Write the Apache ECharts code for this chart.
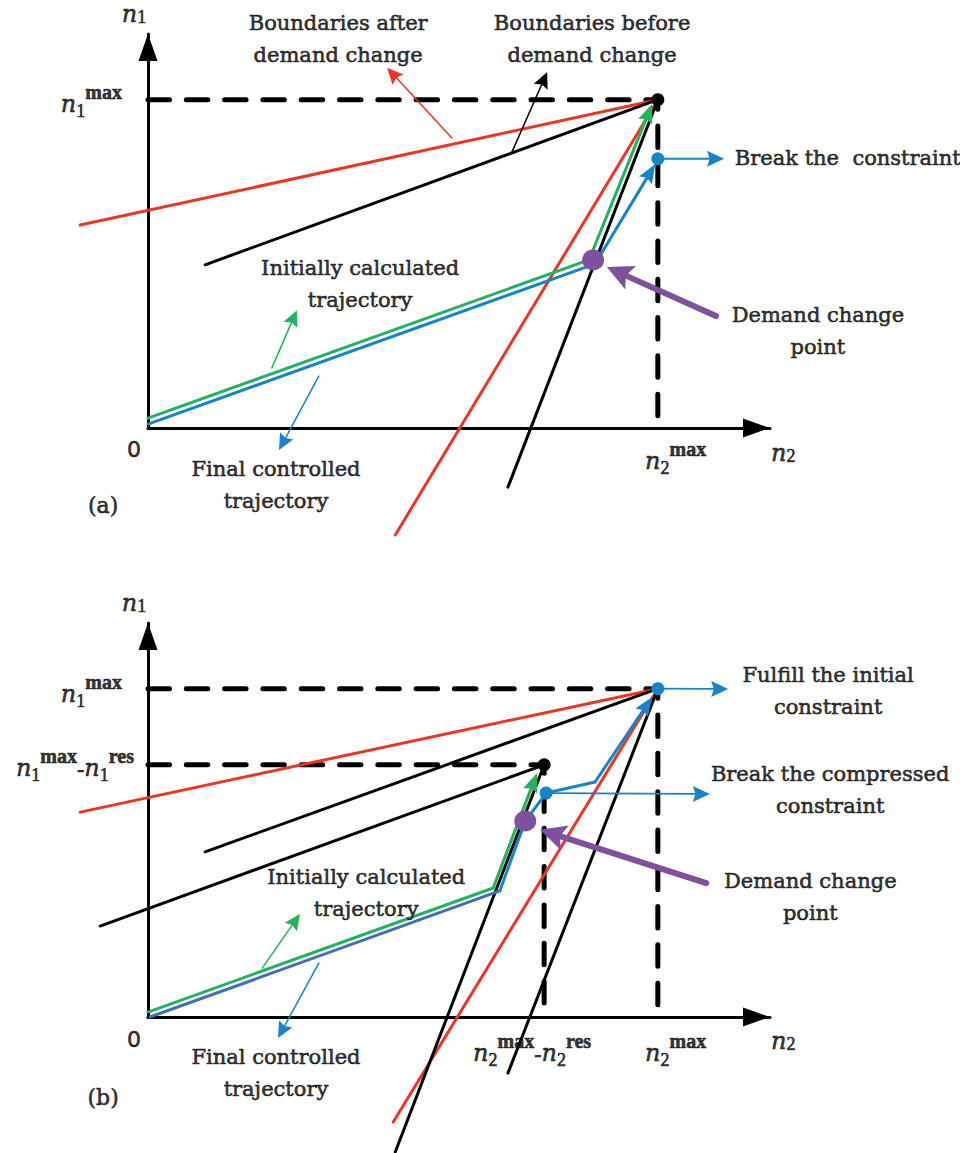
<!DOCTYPE html>
<html>
<head>
<meta charset="utf-8">
<script src="https://cdn.jsdelivr.net/npm/echarts@6/dist/echarts.min.js"></script>
<style>
html,body{margin:0;padding:0;background:#fff;}
#chart{width:960px;height:1153px;}
</style>
</head>
<body>
<div id="chart"></div>
<script>
// ================= DATA (units: n2max = 10, n1max = 10) =================
// ---- panel (a) ----
const aLimitDash   = [[0, 10], [10, 10], [10, 0]];
const aRedFlat     = [[-1.33, 6.18], [10, 10]];
const aBlackFlat   = [[1.12, 4.97], [10, 10]];
const aRedSteep    = [[4.85, -3.26], [10, 10]];
const aBlackSteep  = [[7.06, -1.80], [10, 10]];
const aGreenPath   = [[0, 0.30], [8.65, 5.12], [9.89, 9.87]];
const aBluePath    = [[0, 0.12], [8.77, 5.00], [9.95, 8.04]];
const aLimitPoint  = [[10, 10]];
const aBreakPoint  = [[10, 8.20]];
const aDemandPoint = [[8.73, 5.12]];
const aPurpleArrow = [[11.14, 3.41, 9.00, 4.90]];
const aBlueArrows  = [[10, 8.20, 11.30, 8.20]];
const aRedThin     = [[5.96, 8.83, 4.69, 10.97]];
const aBlackThin   = [[7.14, 8.41, 7.83, 10.84]];
const aGreenThin   = [[2.43, 1.83, 2.92, 3.59]];
const aBlueThin    = [[3.35, 1.58, 2.57, -0.67]];

// ---- panel (b) ----
const bLimitDash     = [[0, 10], [10, 10], [10, 0]];
const bCompressDash  = [[0, 7.68], [7.77, 7.68], [7.77, 0]];
const bRedFlat       = [[-1.33, 6.24], [10, 10]];
const bBlackFlat1    = [[1.12, 5.03], [10, 10]];
const bBlackFlat2    = [[-0.94, 2.77], [7.77, 7.68]];
const bRedSteep      = [[4.81, -3.20], [10, 10]];
const bBlackSteep1   = [[4.85, -4.11], [7.77, 7.68]];
const bBlackSteep2   = [[7.06, -1.71], [10, 10]];
const bGreenPath     = [[0, 0.15], [6.77, 3.93], [7.63, 7.43]];
const bBluePathLow   = [[0.04, 0], [6.90, 3.84]];
const bBluePath      = [[6.90, 3.84], [7.40, 5.97], [7.81, 6.82], [8.77, 7.16], [9.89, 9.75]];
const bCompressPoint = [[7.77, 7.68]];
const bFulfillPoint  = [[10, 10]];
const bBreakPoint    = [[7.81, 6.82]];
const bDemandPoint   = [[7.40, 5.97]];
const bPurpleArrow   = [[10.95, 4.08, 7.69, 5.70]];
const bBlueArrows    = [[10, 10, 11.38, 9.99], [7.81, 6.82, 11.02, 6.79]];
const bGreenThin     = [[2.24, 1.49, 2.98, 3.14]];
const bBlueThin      = [[3.35, 1.64, 2.55, -0.64]];

// ---- texts ----
const aTexts = ['{n|n}{s2|1}', '{n|n}{s|1}{p|max}', '{n|n}{s|2}{p|max}', '{n|n}{s2|2}', '0', '(a)',
  'Boundaries after\ndemand change', 'Boundaries before\ndemand change',
  'Initially calculated\ntrajectory', 'Final controlled\ntrajectory',
  'Demand change\npoint', 'Break the\u00a0 constraint'];
const bTexts = ['{n|n}{s2|1}', '{n|n}{s|1}{p|max}', '{n|n}{s|1}{p|max}{m|-}{n|n}{s|1}{p|res}',
  '{n|n}{s|2}{p|max}{m|-}{n|n}{s|2}{p|res}', '{n|n}{s|2}{p|max}', '{n|n}{s2|2}', '0', '(b)',
  'Initially calculated\ntrajectory', 'Final controlled\ntrajectory',
  'Fulfill the initial\nconstraint', 'Break the compressed\nconstraint', 'Demand change\npoint'];

// ================= LAYOUT (anchor of each text, in axis units) =================
const aTextAt = [[-0.275, 12.61], [-0.51, 9.87], [9.75, -1.01], [12.46, -0.76], [-0.275, -0.67], [-0.88, -2.35],
  [3.73, 11.84], [8.71, 11.84], [4.16, 4.39], [2.51, -1.74], [13.14, 2.95], [11.51, 8.22]];
const aTextAlign = ['center', 'right', 'left', 'center', 'center', 'center',
  'center', 'center', 'center', 'center', 'center', 'left'];
const bTextAt = [[-0.275, 12.61], [-0.51, 9.84], [-0.275, 7.58], [6.375, -1.10], [9.75, -1.10], [12.46, -0.73],
  [-0.275, -0.70], [-0.88, -2.44], [4.28, 3.78], [2.51, -1.71], [13.34, 9.93], [13.38, 6.91], [12.99, 3.66]];
const bTextAlign = ['center', 'right', 'right', 'left', 'left', 'center', 'center', 'center',
  'center', 'center', 'center', 'center', 'center'];

// ================= STYLES =================
const RED = '#ee3524', GREEN = '#22b35d', BLUE = '#1684c9', BLUE_DARK = '#3f6fb6', PURPLE = '#7e509e', BLACK = '#000';
const SERIF = '"DejaVu Serif", serif';
const MATH = '"Liberation Serif", "Times New Roman", serif';
const MATH_IT = '"DejaVu Serif", serif';
const SANS = '"DejaVu Sans", sans-serif';
const DASH = [21.5, 16.8];
const RICH = {
  n:  { fontFamily: MATH_IT, fontStyle: 'italic', fontSize: 24, color: BLACK },
  s:  { fontFamily: MATH, fontSize: 18, color: BLACK, padding: [14, 0, 0, 0] },
  s2: { fontFamily: MATH, fontSize: 18, color: BLACK, padding: [7, 0, 0, 0] },
  p:  { fontFamily: MATH, fontWeight: 'bold', fontSize: 20, color: BLACK, padding: [0, 0, 24, 0] },
  m:  { fontFamily: MATH, fontSize: 22, color: BLACK }
};
const THIN = { width: 1.5, head: 16, half: 7.5, notch: 0.15 };
const POINTER = { width: 1.8, head: 17, half: 8, notch: 0.15 };
const TRAJ = { width: 3, head: 19, half: 7.5, notch: 0.15 };
const BIG = { width: 6, head: 26, half: 13, notch: 0.2 };

function makeArrow(cfg) {
  return function (params, api) {
    const a = api.coord([api.value(0), api.value(1)]);
    const b = api.coord([api.value(2), api.value(3)]);
    const dx = b[0] - a[0], dy = b[1] - a[1];
    const L = Math.hypot(dx, dy) || 1;
    const ux = dx / L, uy = dy / L, nx = -uy, ny = ux;
    const bx = b[0] - ux * cfg.head, by = b[1] - uy * cfg.head;
    const mx = b[0] - ux * cfg.head * (1 - cfg.notch), my = b[1] - uy * cfg.head * (1 - cfg.notch);
    return {
      type: 'group',
      children: [
        { type: 'line', shape: { x1: a[0], y1: a[1], x2: mx, y2: my },
          style: { stroke: cfg.color, lineWidth: cfg.width, lineCap: 'round', fill: null } },
        { type: 'polygon', shape: { points: [[b[0], b[1]], [bx + nx * cfg.half, by + ny * cfg.half], [mx, my], [bx - nx * cfg.half, by - ny * cfg.half]] },
          style: { fill: cfg.color, stroke: null } }
      ]
    };
  };
}
function makeSegment(cfg) {
  return function (params, api) {
    const a = api.coord([api.value(0), api.value(1)]);
    const b = api.coord([api.value(2), api.value(3)]);
    return { type: 'line', shape: { x1: a[0], y1: a[1], x2: b[0], y2: b[1] },
      style: { stroke: cfg.color, lineWidth: cfg.width, lineCap: 'round', fill: null } };
  };
}

const series = [];
function addLine(g, data, color, width, z, type) {
  series.push({ type: 'line', xAxisIndex: g, yAxisIndex: g, data: data, symbol: 'none', clip: false,
    silent: true, animation: false, z: z,
    lineStyle: { color: color, width: width, cap: 'round', join: 'round', type: type || 'solid' } });
}
function addBoundary(g, pts, color, width, z) {
  const segs = [];
  for (let i = 0; i + 1 < pts.length; i++) segs.push([pts[i][0], pts[i][1], pts[i + 1][0], pts[i + 1][1]]);
  series.push({ type: 'custom', coordinateSystem: 'cartesian2d', xAxisIndex: g, yAxisIndex: g, data: segs,
    encode: { x: [0, 2], y: [1, 3] }, renderItem: makeSegment({ color: color, width: width }),
    clip: false, silent: true, animation: false, z: z });
}
function addDots(g, data, color, size, z) {
  series.push({ type: 'scatter', xAxisIndex: g, yAxisIndex: g, data: data, symbol: 'circle', symbolSize: size,
    clip: false, silent: true, animation: false, z: z, itemStyle: { color: color, opacity: 1 } });
}
function addArrows(g, data, base, color, z) {
  const cfg = Object.assign({ color: color }, base);
  series.push({ type: 'custom', coordinateSystem: 'cartesian2d', xAxisIndex: g, yAxisIndex: g, data: data,
    encode: { x: [0, 2], y: [1, 3] }, renderItem: makeArrow(cfg), clip: false, silent: true, animation: false, z: z });
}
function addPath(g, path, color, cfg, z) {
  addLine(g, path.slice(0, -1), color, cfg.width, z);
  const p = path[path.length - 2], q = path[path.length - 1];
  addArrows(g, [[p[0], p[1], q[0], q[1]]], cfg, color, z);
}
function addTexts(g, texts, at, align) {
  series.push({ type: 'scatter', xAxisIndex: g, yAxisIndex: g, symbolSize: 1, clip: false, silent: true,
    animation: false, z: 10, itemStyle: { color: 'rgba(0,0,0,0)' },
    label: { show: true, position: 'inside', color: BLACK, fontFamily: SERIF, fontSize: 21, lineHeight: 32,
      align: 'center', verticalAlign: 'middle', textBorderColor: BLACK, textBorderWidth: 0.6, rich: RICH },
    data: texts.map(function (t, i) {
      const lab = { formatter: t, align: align[i] };
      if (t === '0') { lab.fontFamily = SANS; lab.fontSize = 22; }
      if (t === '(a)' || t === '(b)') { lab.fontSize = 22; }
      return { value: at[i], label: lab };
    })
  });
}

// ---- panel (a) ----
addLine(0, aLimitDash, BLACK, 5, 2, DASH);
addBoundary(0, aRedFlat, RED, 3, 3);
addBoundary(0, aBlackFlat, BLACK, 3, 3);
addBoundary(0, aRedSteep, RED, 3, 3);
addBoundary(0, aBlackSteep, BLACK, 3, 3);
addPath(0, aGreenPath, GREEN, TRAJ, 4);
addPath(0, aBluePath, BLUE, TRAJ, 4);
addArrows(0, aRedThin, THIN, RED, 5);
addArrows(0, aBlackThin, THIN, BLACK, 5);
addArrows(0, aGreenThin, THIN, GREEN, 5);
addArrows(0, aBlueThin, THIN, BLUE, 5);
addArrows(0, aBlueArrows, POINTER, BLUE, 5);
addDots(0, aLimitPoint, BLACK, 13, 6);
addDots(0, aBreakPoint, BLUE, 13, 6);
addDots(0, aDemandPoint, PURPLE, [22, 21], 7);
addArrows(0, aPurpleArrow, BIG, PURPLE, 7);
addTexts(0, aTexts, aTextAt, aTextAlign);

// ---- panel (b) ----
addLine(1, bLimitDash, BLACK, 5, 2, DASH);
addLine(1, bCompressDash, BLACK, 5, 2, DASH);
addBoundary(1, bRedFlat, RED, 3, 3);
addBoundary(1, bBlackFlat1, BLACK, 3, 3);
addBoundary(1, bBlackFlat2, BLACK, 3, 3);
addBoundary(1, bRedSteep, RED, 3, 3);
addBoundary(1, bBlackSteep1, BLACK, 3, 3);
addBoundary(1, bBlackSteep2, BLACK, 3, 3);
addPath(1, bGreenPath, GREEN, TRAJ, 4);
addLine(1, bBluePathLow, BLUE_DARK, 3, 4);
addPath(1, bBluePath, BLUE, TRAJ, 4);
addArrows(1, bGreenThin, THIN, GREEN, 5);
addArrows(1, bBlueThin, THIN, BLUE, 5);
addArrows(1, bBlueArrows, POINTER, BLUE, 5);
addDots(1, bCompressPoint, BLACK, 13, 6);
addDots(1, bFulfillPoint, BLUE, 13, 6);
addDots(1, bBreakPoint, BLUE, 13, 6);
addDots(1, bDemandPoint, PURPLE, [22, 21], 7);
addArrows(1, bPurpleArrow, BIG, PURPLE, 7);
addTexts(1, bTexts, bTextAt, bTextAlign);

// ---- axes ----
const axisLine = { show: true, onZero: false, symbol: ['none', 'triangle'], symbolSize: [19, 27],
  symbolOffset: [0, -13.5], lineStyle: { color: BLACK, width: 3 } };
function xAx(g) { return { gridIndex: g, type: 'value', min: 0, max: 12.2, axisLine: axisLine,
  axisTick: { show: false }, axisLabel: { show: false }, splitLine: { show: false } }; }
function yAx(g) { return { gridIndex: g, type: 'value', min: 0, max: 12, axisLine: axisLine,
  axisTick: { show: false }, axisLabel: { show: false }, splitLine: { show: false } }; }

const chart = echarts.init(document.getElementById('chart'), null, { renderer: 'svg', width: 960, height: 1153 });
chart.setOption({
  animation: false,
  backgroundColor: '#fff',
  grid: [
    { left: 148, top: 34, width: 622, height: 394, containLabel: false, outerBoundsMode: 'none' },
    { left: 148, top: 623, width: 622, height: 394, containLabel: false, outerBoundsMode: 'none' }
  ],
  xAxis: [xAx(0), xAx(1)],
  yAxis: [yAx(0), yAx(1)],
  series: series
});
</script>
</body>
</html>
